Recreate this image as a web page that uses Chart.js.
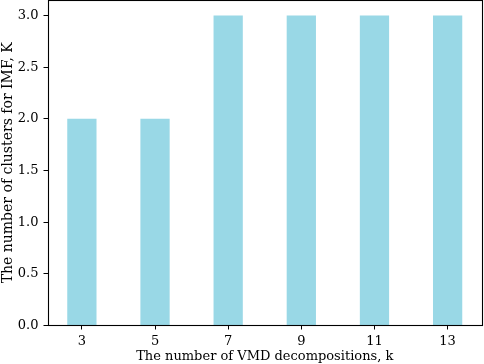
<!DOCTYPE html>
<html>
<head>
<meta charset="utf-8">
<script src="https://cdn.jsdelivr.net/npm/chart.js@4/dist/chart.umd.min.js"></script>
<style>
  html, body { margin: 0; padding: 0; background: #fff; }
  #wrap { width: 484px; height: 364px; }
</style>
</head>
<body>
<div id="wrap"><canvas id="c" width="484" height="364"></canvas></div>
<script>
const categories = ['3', '5', '7', '9', '11', '13'];
const clusterCounts = [2, 2, 3, 3, 3, 3];
const yTicks = [0, 0.5, 1.0, 1.5, 2.0, 2.5, 3.0];
const xTitle = 'The number of VMD decompositions, k';
const yTitle = 'The number of clusters for IMF, K';

const FONT = "'DejaVu Serif', 'Liberation Serif', serif";

const boxPlugin = {
  id: 'box',
  afterDraw(chart) {
    const a = chart.chartArea, ctx = chart.ctx;
    ctx.save();
    ctx.strokeStyle = '#000';
    ctx.lineWidth = 1.1;
    ctx.strokeRect(Math.round(a.left) + 0.5, Math.round(a.top) + 0.5,
                   Math.round(a.right - a.left) - 1, Math.round(a.bottom - a.top) - 1);
    ctx.restore();
  }
};

new Chart(document.getElementById('c'), {
  type: 'bar',
  data: {
    datasets: [{
      data: clusterCounts.map((v, i) => ({ x: i, y: v })),
      backgroundColor: 'rgb(153,216,230)',
      borderWidth: 0,
      barPercentage: 0.4,
      categoryPercentage: 1.0
    }]
  },
  options: {
    responsive: false,
    animation: false,
    devicePixelRatio: 1,
    layout: { padding: { top: 0, right: 2, left: 0, bottom: 0 } },
    plugins: { legend: { display: false }, tooltip: { enabled: false } },
    scales: {
      x: {
        type: 'linear',
        offset: false,
        min: -0.47,
        max: categories.length - 1 + 0.47,
        afterBuildTicks(scale) { scale.ticks = categories.map((c, i) => ({ value: i })); },
        afterFit(scale) { scale.height = 38.5; scale.paddingLeft = 0; scale.paddingRight = 0; },
        ticks: {
          callback: (v) => categories[v],
          color: '#000',
          font: { family: FONT, size: 13 },
          padding: 4,
          maxRotation: 0,
          autoSkip: false
        },
        grid: { offset: false, drawOnChartArea: false, drawTicks: true, tickLength: 4, color: '#000', lineWidth: 1 },
        border: { display: false },
        title: {
          display: true,
          text: xTitle,
          color: '#000',
          font: { family: FONT, size: 13 },
          padding: { top: 0, bottom: 0 }
        }
      },
      y: {
        min: 0,
        max: 3.15,
        afterBuildTicks(scale) { scale.ticks = yTicks.map(v => ({ value: v })); },
        afterFit(scale) { scale.width = 47.5; scale.paddingTop = 0; scale.paddingBottom = 0; },
        ticks: {
          callback: (v) => v.toFixed(1),
          color: '#000',
          font: { family: FONT, size: 13 },
          padding: 5
        },
        grid: { drawOnChartArea: false, drawTicks: true, tickLength: 4, color: '#000', lineWidth: 1 },
        border: { display: false },
        title: {
          display: true,
          text: yTitle,
          color: '#000',
          font: { family: FONT, size: 14 },
          padding: { top: 0, bottom: 0 }
        }
      }
    }
  },
  plugins: [boxPlugin]
});
</script>
</body>
</html>
